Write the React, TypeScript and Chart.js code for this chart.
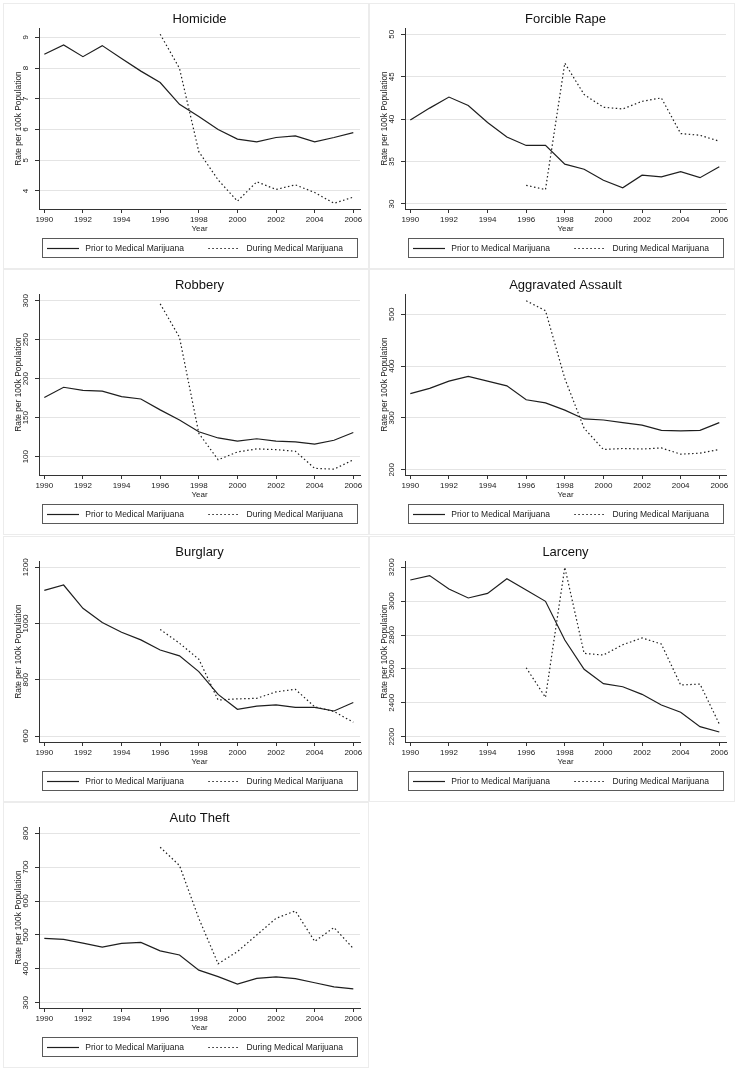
import React, { useEffect, useRef } from 'react';
import { Chart, registerables } from 'chart.js';

Chart.register(...registerables);

const FONT = '"Liberation Sans", Arial, Helvetica, sans-serif';

const YEARS_PRIOR = [1990, 1991, 1992, 1993, 1994, 1995, 1996, 1997, 1998, 1999, 2000, 2001, 2002, 2003, 2004, 2005, 2006];
const YEARS_DURING = [1996, 1997, 1998, 1999, 2000, 2001, 2002, 2003, 2004, 2005, 2006];
const X_TICKS = [1990, 1992, 1994, 1996, 1998, 2000, 2002, 2004, 2006];

const LABEL_PRIOR = 'Prior to Medical Marijuana';
const LABEL_DURING = 'During Medical Marijuana';
const X_TITLE = 'Year';
const Y_TITLE = 'Rate per 100k Population';

const HOMICIDE_PRIOR = [8.45, 8.75, 8.37, 8.73, 8.31, 7.9, 7.53, 6.82, 6.42, 6.0, 5.69, 5.6, 5.74, 5.79, 5.6, 5.74, 5.9];
const HOMICIDE_DURING = [9.1, 7.99, 5.28, 4.36, 3.67, 4.3, 4.05, 4.2, 3.95, 3.6, 3.8];
const HOMICIDE_TICKS = [4, 5, 6, 7, 8, 9];

const RAPE_PRIOR = [39.9, 41.3, 42.6, 41.6, 39.6, 37.9, 36.9, 36.9, 34.7, 34.1, 32.8, 31.9, 33.4, 33.2, 33.8, 33.1, 34.4];
const RAPE_DURING = [32.2, 31.7, 46.6, 42.9, 41.4, 41.2, 42.1, 42.5, 38.3, 38.1, 37.4];
const RAPE_TICKS = [30, 35, 40, 45, 50];

const ROBBERY_PRIOR = [176, 189, 185, 184, 177, 174, 160, 147, 132, 124, 120, 123, 120, 119, 116, 121, 131];
const ROBBERY_DURING = [296, 253, 130, 96, 106, 110, 109, 107, 85, 84, 96];
const ROBBERY_TICKS = [100, 150, 200, 250, 300];

const ASSAULT_PRIOR = [347, 357, 371, 380, 371, 362, 335, 329, 315, 298, 296, 291, 286, 276, 275, 276, 291];
const ASSAULT_DURING = [526, 507, 376, 280, 239, 241, 240, 242, 230, 232, 239];
const ASSAULT_TICKS = [200, 300, 400, 500];

const BURGLARY_PRIOR = [1118, 1137, 1054, 1004, 969, 942, 906, 885, 829, 748, 695, 706, 711, 702, 702, 689, 719];
const BURGLARY_DURING = [979, 930, 873, 728, 732, 734, 757, 766, 704, 687, 649];
const BURGLARY_TICKS = [600, 800, 1000, 1200];

const LARCENY_PRIOR = [3125, 3151, 3072, 3019, 3046, 3133, 3066, 2999, 2771, 2598, 2513, 2495, 2450, 2387, 2344, 2259, 2228];
const LARCENY_DURING = [2607, 2432, 3200, 2692, 2682, 2743, 2783, 2747, 2505, 2511, 2275];
const LARCENY_TICKS = [2200, 2400, 2600, 2800, 3000, 3200];

const AUTO_PRIOR = [490, 487, 476, 464, 475, 478, 453, 441, 396, 377, 355, 372, 376, 371, 359, 347, 341];
const AUTO_DURING = [759, 705, 549, 415, 451, 500, 549, 571, 481, 522, 460];
const AUTO_TICKS = [300, 400, 500, 600, 700, 800];

const PANELS = [
  { title: 'Homicide', prior: HOMICIDE_PRIOR, during: HOMICIDE_DURING, ticks: HOMICIDE_TICKS, min: 3.414, max: 9.303 },
  { title: 'Forcible Rape', prior: RAPE_PRIOR, during: RAPE_DURING, ticks: RAPE_TICKS, min: 29.41, max: 50.74 },
  { title: 'Robbery', prior: ROBBERY_PRIOR, during: ROBBERY_DURING, ticks: ROBBERY_TICKS, min: 76.5, max: 308.6 },
  { title: 'Aggravated Assault', prior: ASSAULT_PRIOR, during: ASSAULT_DURING, ticks: ASSAULT_TICKS, min: 189.8, max: 539.2 },
  { title: 'Burglary', prior: BURGLARY_PRIOR, during: BURGLARY_DURING, ticks: BURGLARY_TICKS, min: 578.7, max: 1222.4 },
  { title: 'Larceny', prior: LARCENY_PRIOR, during: LARCENY_DURING, ticks: LARCENY_TICKS, min: 2168.7, max: 3237.2 },
  { title: 'Auto Theft', prior: AUTO_PRIOR, during: AUTO_DURING, ticks: AUTO_TICKS, min: 284.4, max: 818.6 },
];

const PANEL_W = 366;
const PANEL_H = 266;
const X_MIN = 1989.725;
const X_MAX = 2006.347;

const panelFrame = {
  id: 'panelFrame',
  beforeDraw(chart: any) {
    const { ctx, width, height } = chart;
    ctx.save();
    ctx.fillStyle = '#ffffff';
    ctx.fillRect(0, 0, width, height);
    ctx.strokeStyle = '#ececec';
    ctx.lineWidth = 1;
    ctx.strokeRect(0.5, 0.5, width - 1, height - 1);
    ctx.restore();
  },
};

const stataLegend = {
  id: 'stataLegend',
  afterDraw(chart: any) {
    const { ctx, chartArea, height } = chart;
    const left = Math.round(chartArea.left + 3);
    const right = Math.round(chartArea.right - 3);
    const top = height - 31;
    const h = 19;
    ctx.save();
    ctx.strokeStyle = '#5a5a5a';
    ctx.lineWidth = 1;
    ctx.setLineDash([]);
    ctx.strokeRect(left + 0.5, top + 0.5, right - left, h);
    const cy = top + h / 2 + 0.5;
    chart.data.datasets.forEach((ds: any, i: number) => {
      const x0 = left + 5 + i * 161.3;
      ctx.save();
      ctx.setLineDash(ds.borderDash || []);
      ctx.strokeStyle = ds.borderColor;
      ctx.lineWidth = ds.borderWidth;
      ctx.beginPath();
      ctx.moveTo(x0, Math.round(cy) + 0.5);
      ctx.lineTo(x0 + 32, Math.round(cy) + 0.5);
      ctx.stroke();
      ctx.restore();
      ctx.fillStyle = '#1a1a1a';
      ctx.font = `8.5px ${FONT}`;
      ctx.textAlign = 'left';
      ctx.textBaseline = 'middle';
      ctx.fillText(ds.label, x0 + 38.3, cy + 0.5);
    });
    ctx.restore();
  },
};

function measureWidest(labels: string[]) {
  const c = document.createElement('canvas');
  const ctx = c.getContext('2d') as CanvasRenderingContext2D;
  ctx.font = `8px ${FONT}`;
  let w = 0;
  labels.forEach((l) => {
    w = Math.max(w, ctx.measureText(l).width);
  });
  return w;
}

function Panel({ p }: { p: any }) {
  const ref = useRef<HTMLCanvasElement | null>(null);
  useEffect(() => {
    if (!ref.current) return;
    const widest = measureWidest(p.ticks.map((v: number) => String(v)));
    const yPad = 9 - widest / 2;
    const yTicks = p.ticks;
    const chart = new Chart(ref.current, {
      type: 'line',
      data: {
        datasets: [
          {
            label: LABEL_PRIOR,
            data: YEARS_PRIOR.map((x, i) => ({ x, y: p.prior[i] })),
            borderColor: '#1e1e1e',
            borderWidth: 1.2,
            borderDash: [],
            pointRadius: 0,
            fill: false,
            tension: 0,
          },
          {
            label: LABEL_DURING,
            data: YEARS_DURING.map((x, i) => ({ x, y: p.during[i] })),
            borderColor: '#1e1e1e',
            borderWidth: 1.2,
            borderDash: [1.5, 2.5],
            pointRadius: 0,
            fill: false,
            tension: 0,
          },
        ],
      },
      options: {
        responsive: false,
        animation: false,
        events: [],
        layout: { padding: { top: 0, left: 0, right: 9, bottom: 34 } },
        plugins: {
          legend: { display: false },
          tooltip: { enabled: false },
          title: {
            display: true,
            text: p.title,
            fullSize: false,
            color: '#111',
            font: { size: 13, family: FONT, weight: 'normal' },
            padding: { top: 9, bottom: 0.4 },
          },
        },
        scales: {
          x: {
            type: 'linear',
            min: X_MIN,
            max: X_MAX,
            afterBuildTicks: (s: any) => {
              s.ticks = X_TICKS.map((v) => ({ value: v }));
            },
            afterFit: (s: any) => {
              s.height = 26;
            },
            grid: { drawOnChartArea: false, drawTicks: true, tickLength: 4, tickColor: '#333', tickWidth: 1 },
            border: { display: true, color: '#333', width: 1 },
            ticks: {
              padding: 2,
              autoSkip: false,
              maxRotation: 0,
              minRotation: 0,
              color: '#1a1a1a',
              font: { size: 8, family: FONT },
              callback: (v: any) => String(v),
            },
            title: {
              display: true,
              text: X_TITLE,
              color: '#1a1a1a',
              font: { size: 8, family: FONT },
              padding: { top: 0, bottom: 1 },
            },
          },
          y: {
            type: 'linear',
            min: p.min,
            max: p.max,
            afterBuildTicks: (s: any) => {
              s.ticks = yTicks.map((v: number) => ({ value: v }));
            },
            afterFit: (s: any) => {
              s.width = 36;
            },
            grid: { color: '#e4e4e4', lineWidth: 1, drawTicks: true, tickLength: 4, tickColor: '#333', tickWidth: 1 },
            border: { display: true, color: '#333', width: 1 },
            ticks: {
              padding: yPad,
              crossAlign: 'center',
              minRotation: 90,
              maxRotation: 90,
              autoSkip: false,
              color: '#1a1a1a',
              font: { size: 8, family: FONT },
              callback: (v: any) => String(v),
            },
            title: {
              display: true,
              text: Y_TITLE,
              color: '#1a1a1a',
              font: { size: 8.4, family: FONT },
              padding: { top: 10.5, bottom: 0 },
            },
          },
        },
      } as any,
      plugins: [panelFrame, stataLegend],
    } as any);
    return () => chart.destroy();
  }, [p]);
  return <canvas ref={ref} width={PANEL_W} height={PANEL_H} style={{ display: 'block', width: PANEL_W, height: PANEL_H }} />;
}

export default function App() {
  return (
    <div style={{ position: 'absolute', left: 0, top: 0, width: 739, height: 1072, background: '#fff' }}>
      {PANELS.map((p, i) => {
        const col = i % 2;
        const row = Math.floor(i / 2);
        return (
          <div
            key={p.title}
            style={{ position: 'absolute', left: 3 + col * 366, top: 3 + Math.round(row * 266.33), width: PANEL_W, height: PANEL_H }}
          >
            <Panel p={p} />
          </div>
        );
      })}
    </div>
  );
}
